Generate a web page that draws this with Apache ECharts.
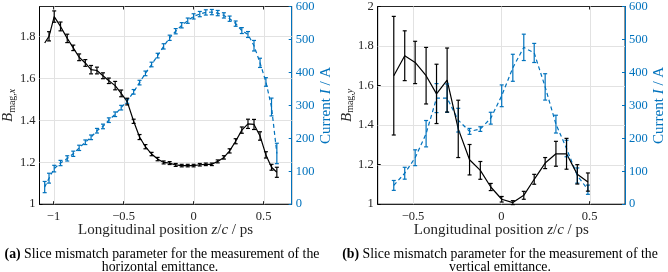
<!DOCTYPE html>
<html><head><meta charset="utf-8">
<script src="https://cdn.jsdelivr.net/npm/echarts@6/dist/echarts.min.js"></script>
<style>html,body{margin:0;padding:0;background:#fff}#c{width:668px;height:272px}</style>
</head><body><div id="c"></div>
<script>
// ---- (a) horizontal ----
const zA = [-1.063, -1.032, -0.995, -0.950, -0.902, -0.859, -0.817, -0.773, -0.732, -0.690,
            -0.647, -0.605, -0.560, -0.517, -0.474, -0.428, -0.386, -0.344, -0.300, -0.257,
            -0.214, -0.171, -0.128, -0.085, -0.042, 0.000, 0.044, 0.087, 0.130, 0.172,
            0.216, 0.257, 0.300, 0.344, 0.388, 0.431, 0.474, 0.516, 0.556, 0.594];
const bmagX = [1.768, 1.800, 1.894, 1.847, 1.790, 1.745, 1.700, 1.673, 1.641, 1.637,
               1.612, 1.588, 1.565, 1.528, 1.489, 1.395, 1.320, 1.274, 1.239, 1.215,
               1.199, 1.196, 1.187, 1.184, 1.184, 1.184, 1.188, 1.190, 1.190, 1.204,
               1.223, 1.254, 1.300, 1.353, 1.383, 1.380, 1.325, 1.235, 1.176, 1.152];
const bmagXErr = [0.0, 0.022, 0.027, 0.021, 0.020, 0.013, 0.016, 0.016, 0.020, 0.016,
                  0.014, 0.013, 0.020, 0.016, 0.016, 0.010, 0.012, 0.010, 0.008, 0.008,
                  0.007, 0.007, 0.007, 0.006, 0.006, 0.006, 0.006, 0.006, 0.006, 0.007,
                  0.008, 0.010, 0.012, 0.015, 0.022, 0.024, 0.020, 0.015, 0.014, 0.024];
const currA = [52, 79, 108, 125, 139, 153, 171, 188, 203, 223,
               236, 255, 273, 293, 313, 341, 369, 397, 424, 451,
               479, 505, 525, 543, 557, 570, 577, 582, 583, 580,
               573, 563, 548, 527, 515, 481, 429, 371, 295, 154];
const currAErr = [17, 15, 10, 8, 8, 8, 8, 7, 7, 7,
                  7, 7, 7, 7, 7, 7, 7, 7, 7, 7,
                  8, 8, 8, 8, 8, 8, 8, 8, 8, 8,
                  8, 8, 8, 9, 9, 16, 14, 13, 27, 31];

// ---- (b) vertical ----
const zB = [-0.609, -0.547, -0.488, -0.426, -0.367, -0.307, -0.244, -0.180, -0.119, -0.060,
            0.002, 0.065, 0.127, 0.186, 0.248, 0.309, 0.369, 0.430, 0.490];
const bmagY = [1.650, 1.751, 1.717, 1.650, 1.558, 1.628, 1.381, 1.225, 1.171, 1.087,
               1.025, 1.008, 1.045, 1.126, 1.208, 1.255, 1.255, 1.151, 1.112];
const bmagYErr = [0.300, 0.126, 0.107, 0.143, 0.150, 0.162, 0.145, 0.077, 0.045, 0.018,
                  0.014, 0.010, 0.020, 0.025, 0.028, 0.063, 0.078, 0.049, 0.046];
const currB = [57, 94, 141, 214, 322, 322, 255, 221, 228, 261,
               329, 414, 476, 459, 356, 243, 169, 87, 44];
const currBErr = [15, 18, 24, 40, 44, 43, 36, 9, 7, 18,
                  33, 41, 40, 29, 40, 27, 25, 23, 14];

// ---- ticks ----
const xTicksA = [-1, -0.5, 0, 0.5];
const xTicksB = [-0.5, 0, 0.5];
const bTicksA = [1, 1.2, 1.4, 1.6, 1.8];
const bTicksB = [1, 1.2, 1.4, 1.6, 1.8, 2];
const iTicks = [0, 100, 200, 300, 400, 500, 600];

const BLUE = '#0072BD', DARK = '#262626', GRID = '#e2e2e2';
const FONT = 'Liberation Serif';
const fmt = (v) => String(v).replace('-', '\u2212');

function errSeries(xs, ys, es, xi, yi, color) {
  return {
    type: 'custom', xAxisIndex: xi, yAxisIndex: yi, silent: true, z: 3,
    data: xs.map((x, i) => [x, ys[i], es[i]]),
    encode: { x: 0, y: 1 },
    renderItem(params, api) {
      const x = api.value(0), y = api.value(1), e = api.value(2);
      if (!e) return null;
      const lo = api.coord([x, y - e]), hi = api.coord([x, y + e]);
      const w = 2;
      const st = { stroke: color, lineWidth: 1.2 };
      return { type: 'group', children: [
        { type: 'line', shape: { x1: lo[0], y1: lo[1], x2: hi[0], y2: hi[1] }, style: st },
        { type: 'line', shape: { x1: lo[0] - w, y1: lo[1], x2: lo[0] + w, y2: lo[1] }, style: st },
        { type: 'line', shape: { x1: hi[0] - w, y1: hi[1], x2: hi[0] + w, y2: hi[1] }, style: st }
      ]};
    }
  };
}
function lineSeries(xs, ys, xi, yi, color, dashed) {
  return {
    type: 'line', xAxisIndex: xi, yAxisIndex: yi, silent: true, z: 2,
    data: xs.map((x, i) => [x, ys[i]]), showSymbol: false, symbol: 'none',
    lineStyle: { color: color, width: 1.2, type: dashed ? [4, 3] : 'solid' }
  };
}
// grid lines drawn through the axes' own scales
function gridLines(xi, yi, xVals, yVals, yBase, xBase) {
  const data = xVals.map(v => [v, yBase, 0]).concat(yVals.map(v => [xBase, v, 1]));
  return {
    type: 'custom', xAxisIndex: xi, yAxisIndex: yi, silent: true, z: 1,
    data: data, encode: { x: 0, y: 1 },
    renderItem(params, api) {
      const cs = params.coordSys;
      const p = api.coord([api.value(0), api.value(1)]);
      const st = { stroke: GRID, lineWidth: 1 };
      if (api.value(2) === 0) {
        const x = Math.round(p[0]) + 0.5;
        return { type: 'line', shape: { x1: x, y1: cs.y, x2: x, y2: cs.y + cs.height }, style: st };
      }
      const y = Math.round(p[1]) + 0.5;
      return { type: 'line', shape: { x1: cs.x, y1: y, x2: cs.x + cs.width, y2: y }, style: st };
    }
  };
}

const rich = {
  i: { fontFamily: FONT, fontStyle: 'italic', fontSize: 15 },
  s: { fontFamily: FONT, fontSize: 10, padding: [8, 0, 0, 0] },
  si: { fontFamily: FONT, fontStyle: 'italic', fontSize: 10, padding: [8, 0, 0, 0] }
};
const lbl = (color) => ({ fontFamily: FONT, fontSize: 12.5, color: color, formatter: fmt });

function xAxes(grid, ticks, min, max) {
  return [
    { type: 'value', gridIndex: grid, position: 'bottom', min: min, max: max,
      axisLine: { onZero: false, lineStyle: { color: DARK, width: 1 } },
      axisTick: { inside: true, length: 3, customValues: ticks, lineStyle: { color: DARK } },
      axisLabel: Object.assign(lbl(DARK), { customValues: ticks, margin: 6 }),
      splitLine: { show: false },
      name: 'Longitudinal position {i|z}/{i|c} / ps', nameLocation: 'middle', nameGap: 18,
      nameMoveOverlap: false,
      nameTextStyle: { fontFamily: FONT, fontSize: 15, color: DARK, rich: rich } },
    { type: 'value', gridIndex: grid, position: 'top', min: min, max: max,
      axisLine: { onZero: false, lineStyle: { color: DARK, width: 1 } },
      axisTick: { inside: true, length: 3, customValues: ticks, lineStyle: { color: DARK } },
      axisLabel: { show: false }, splitLine: { show: false } }
  ];
}
function yAxes(grid, bTicks, bmax, sub) {
  return [
    { type: 'value', gridIndex: grid, position: 'left', min: 1, max: bmax,
      axisLine: { show: true, onZero: false, lineStyle: { color: '#000', width: 1 } },
      axisTick: { show: true, inside: true, length: 3, customValues: bTicks, lineStyle: { color: '#000' } },
      axisLabel: Object.assign(lbl(DARK), { customValues: bTicks, margin: 4 }),
      splitLine: { show: false },
      name: '{i|B}{s|mag,}{si|' + sub + '}', nameLocation: 'middle', nameGap: 22, nameRotate: 90,
      nameMoveOverlap: false,
      nameTextStyle: { fontFamily: FONT, fontSize: 15, color: DARK, rich: rich } },
    { type: 'value', gridIndex: grid, position: 'right', min: 0, max: 600,
      axisLine: { show: true, onZero: false, lineStyle: { color: BLUE, width: 1 } },
      axisTick: { show: true, inside: true, length: 3, customValues: iTicks, lineStyle: { color: BLUE } },
      axisLabel: Object.assign(lbl(BLUE), { customValues: iTicks, margin: 4 }),
      splitLine: { show: false },
      name: 'Current {i|I} / A', nameLocation: 'middle', nameGap: 27, nameRotate: 90,
      nameMoveOverlap: false,
      nameTextStyle: { fontFamily: FONT, fontSize: 15, color: BLUE,
        rich: { i: { fontFamily: FONT, fontStyle: 'italic', fontSize: 15, color: BLUE } } } }
  ];
}

const chart = echarts.init(document.getElementById('c'), null, { renderer: 'canvas' });
const capStyle = { fontFamily: FONT, fontSize: 13.8, fill: '#000', align: 'center', verticalAlign: 'middle',
  rich: { b: { fontFamily: FONT, fontSize: 13.8, fontWeight: 'bold' } } };
chart.setOption({
  animation: false,
  backgroundColor: '#fff',
  grid: [
    { left: 37, top: 5.7, width: 254.7, height: 198.5, show: true, borderColor: DARK, borderWidth: 1, containLabel: false },
    { left: 377.7, top: 5.7, width: 253.3, height: 198.5, show: true, borderColor: DARK, borderWidth: 1, containLabel: false }
  ],
  xAxis: [].concat(xAxes(0, xTicksA, -1.1, 0.7), xAxes(1, xTicksB, -0.7, 0.7)),
  yAxis: [].concat(yAxes(0, bTicksA, 1.942, 'x'), yAxes(1, bTicksB, 2, 'y')),
  series: [
    gridLines(0, 0, xTicksA, bTicksA.slice(1), 1, 0),
    gridLines(2, 2, xTicksB, bTicksB.slice(1, -1), 1, 0),
    lineSeries(zA, currA, 0, 1, BLUE, true),
    errSeries(zA, currA, currAErr, 0, 1, BLUE),
    lineSeries(zA, bmagX, 0, 0, '#000', false),
    errSeries(zA, bmagX, bmagXErr, 0, 0, '#000'),
    lineSeries(zB, currB, 2, 3, BLUE, true),
    errSeries(zB, currB, currBErr, 2, 3, BLUE),
    lineSeries(zB, bmagY, 2, 2, '#000', false),
    errSeries(zB, bmagY, bmagYErr, 2, 2, '#000')
  ],
  graphic: [
    { type: 'text', x: 162, y: 254, style: Object.assign({ text: '{b|(a)} Slice mismatch parameter for the measurement of the' }, capStyle) },
    { type: 'text', x: 160, y: 267, style: Object.assign({ text: 'horizontal emittance.' }, capStyle) },
    { type: 'text', x: 500, y: 254, style: Object.assign({ text: '{b|(b)} Slice mismatch parameter for the measurement of the' }, capStyle) },
    { type: 'text', x: 500, y: 267, style: Object.assign({ text: 'vertical emittance.' }, capStyle) }
  ]
});
</script>
</body></html>
